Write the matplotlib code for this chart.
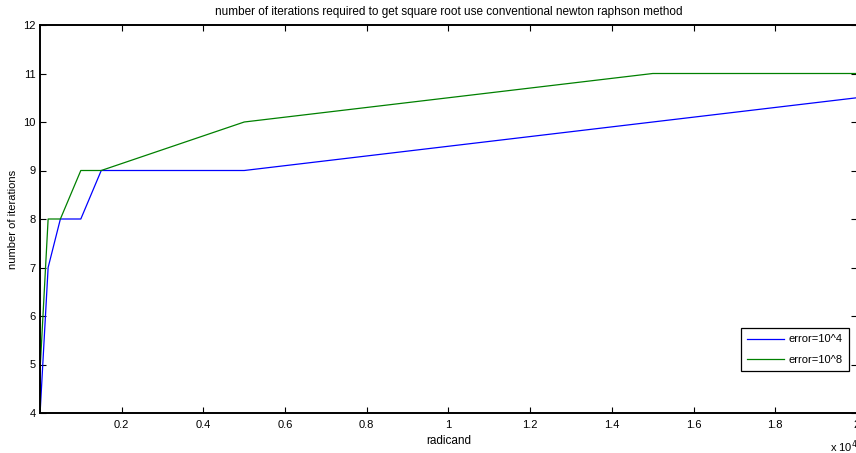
import numpy as np
import matplotlib.pyplot as plt

plt.rcParams['font.family'] = ['Liberation Sans', 'DejaVu Sans']

# radicand values and iteration counts
radicand = [1, 10, 200, 500, 1000, 1500, 5000, 15000, 20000]
iters_e4 = [4, 4.1, 7, 8, 8, 9, 9, 10, 10.5]
iters_e8 = [4, 5, 8, 8, 9, 9, 10, 11, 11]
xticks = [2000, 4000, 6000, 8000, 10000, 12000, 14000, 16000, 18000, 20000]
xticklabels = ['0.2', '0.4', '0.6', '0.8', '1', '1.2', '1.4', '1.6', '1.8', '2']
yticks = [4, 5, 6, 7, 8, 9, 10, 11, 12]

fig = plt.figure(figsize=(8.56, 4.53), dpi=100)
ax = fig.add_axes([40 / 856, 40 / 453, 817 / 856, 388 / 453])

ax.plot(radicand, iters_e4, color=(0, 0, 1), lw=0.9, label='error=10^4')
ax.plot(radicand, iters_e8, color=(0, 0.5, 0), lw=0.9, label='error=10^8')

ax.set_xlim(1, 20000)
ax.set_ylim(4, 12)
ax.set_xticks(xticks)
ax.set_xticklabels(xticklabels)
ax.set_yticks(yticks)
ax.tick_params(direction='in', length=4, width=0.8, top=True, right=True,
               labelsize=8)
ax.tick_params(axis='x', pad=5)
ax.tick_params(axis='y', pad=3)
for s in ax.spines.values():
    s.set_linewidth(1.4)

ax.set_title('number of iterations required to get square root use conventional newton raphson method',
             fontsize=8.5, pad=7)
ax.set_xlabel('radicand', fontsize=8.5, labelpad=4)
ax.set_ylabel('number of iterations', fontsize=8, labelpad=4)
fig.text(830 / 856, 1 - 447 / 453, 'x 10$^4$', fontsize=8, va='center', ha='left')

leg = ax.legend(loc='lower right', bbox_to_anchor=(0.990, 0.108), borderaxespad=0,
                fontsize=8, fancybox=False, edgecolor='black', framealpha=1,
                handlelength=3.3, borderpad=0.55, labelspacing=0.95,
                handletextpad=0.4)
leg.get_frame().set_linewidth(0.9)

fig.savefig('out.png', dpi=100)
